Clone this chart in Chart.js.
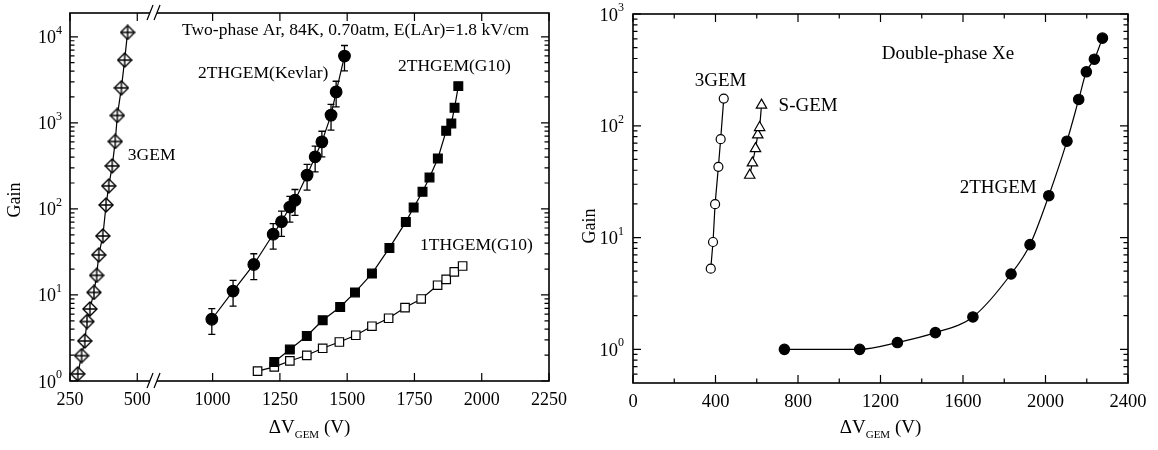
<!DOCTYPE html>
<html>
<head>
<meta charset="utf-8">
<script src="https://cdn.jsdelivr.net/npm/chart.js@4.4.0/dist/chart.umd.min.js"></script>
<style>
  html, body { margin: 0; padding: 0; background: #fff; }
  #wrap { position: relative; width: 1158px; height: 450px; }
  canvas { position: absolute; top: 0; }
</style>
</head>
<body>
<div id="wrap">
  <canvas id="chart-1" width="575" height="450" style="left:0px"></canvas>
  <canvas id="chart-2" width="583" height="450" style="left:575px"></canvas>
</div>
<script>
/************************ data: two-phase Ar (left panel) ************************/

const gem3ArV = [279, 293, 305, 313, 324, 339, 349, 357, 372, 384, 394, 407, 418, 426, 441, 453, 464];
const gem3ArGain = [1.21, 1.97, 2.92, 4.91, 6.87, 10.7, 16.9, 29.2, 48.5, 111, 185, 316, 608, 1219, 2553, 5360, 11250];

const kevlarV = [997, 1076, 1153, 1225, 1256, 1287, 1306, 1351, 1381, 1406, 1440, 1459, 1490];
const kevlarGain = [5.22, 11.1, 22.6, 50.8, 71, 105, 126, 247, 403, 601, 1230, 2290, 5970];
const kevlarErr = [1.73, 3.7, 7.5, 16.8, 23, 35, 42, 82, 133, 198, 405, 755, 1950];

const g10V = [1229, 1287, 1350, 1409, 1474, 1529, 1592, 1657, 1718, 1747, 1780, 1806, 1837, 1868, 1887, 1899, 1913];
const g10Gain = [1.66, 2.32, 3.34, 5.08, 7.25, 10.7, 17.7, 35.2, 70.6, 104, 158, 232, 385, 807, 984, 1494, 2670];

const thgem1V = [1167, 1229, 1287, 1350, 1409, 1471, 1532, 1592, 1654, 1715, 1775, 1836, 1868, 1898, 1929];
const thgem1Gain = [1.30, 1.46, 1.71, 1.99, 2.40, 2.84, 3.40, 4.33, 5.36, 7.14, 8.98, 12.97, 15.2, 18.5, 21.7];

const xTicksAr = [250, 500, 1000, 1250, 1500, 1750, 2000, 2250];
const yDecadesAr = [1, 10, 100, 1000, 10000];

/************************ data: double-phase Xe (right panel) ************************/

const gem3XeV = [377, 388, 398, 414, 425, 440];
const gem3XeGain = [5.27, 9.13, 19.9, 42.9, 75.9, 175];

const sgemV = [566, 579, 594, 605, 614, 623];
const sgemGain = [36.1, 46.5, 62.5, 82.9, 96.4, 153];

const thgemXeV = [734, 1099, 1282, 1466, 1648, 1833, 1925, 2016, 2104, 2161, 2198, 2237, 2276];
const thgemXeGain = [1.0, 1.0, 1.15, 1.41, 1.95, 4.72, 8.64, 23.7, 72.8, 172, 304, 394, 608];

const xTicksXe = [0, 400, 800, 1200, 1600, 2000, 2400];
const xMinorXe = [200, 600, 1000, 1400, 1800, 2200];
const yDecadesXe = [1, 10, 100, 1000];

/************************ broken x axis of the left panel ************************/
// 250..566 is drawn as is, everything above 786 is pulled left by 220
const BREAK_LO = 566;
const BREAK_SHIFT = 220;
function squeeze(v) {
  return v > BREAK_LO ? v - BREAK_SHIFT : v;
}
function same(v) {
  return v;
}

function pts(xs, ys, map) {
  return xs.map((v, i) => ({ x: map(v), y: ys[i] }));
}

// open diamond with a cross inside (3GEM in Ar)
function diamondCross() {
  const c = document.createElement("canvas");
  c.width = 16;
  c.height = 16;
  const g = c.getContext("2d");
  g.strokeStyle = "#000";
  g.lineWidth = 1.4;
  g.fillStyle = "#fff";
  g.beginPath();
  g.moveTo(8, 1);
  g.lineTo(15, 8);
  g.lineTo(8, 15);
  g.lineTo(1, 8);
  g.closePath();
  g.fill();
  g.stroke();
  g.beginPath();
  g.moveTo(8, 1);
  g.lineTo(8, 15);
  g.moveTo(1, 8);
  g.lineTo(15, 8);
  g.stroke();
  return c;
}

const SERIF = "'Liberation Serif', 'DejaVu Serif', serif";

/************************ error bars ************************/
const errorBarPlugin = {
  id: "errorBars",
  beforeDatasetsDraw(chart) {
    const ctx = chart.ctx;
    const ys = chart.scales.y;
    chart.data.datasets.forEach((ds, di) => {
      if (!ds.errors) return;
      const meta = chart.getDatasetMeta(di);
      ctx.save();
      ctx.strokeStyle = "#000";
      ctx.lineWidth = 1.3;
      meta.data.forEach((p, i) => {
        const g = ds.data[i].y;
        const e = ds.errors[i];
        const top = ys.getPixelForValue(g + e);
        const bot = ys.getPixelForValue(Math.max(g - e, 1e-3));
        ctx.beginPath();
        ctx.moveTo(p.x, top);
        ctx.lineTo(p.x, bot);
        ctx.moveTo(p.x - 3.5, top);
        ctx.lineTo(p.x + 3.5, top);
        ctx.moveTo(p.x - 3.5, bot);
        ctx.lineTo(p.x + 3.5, bot);
        ctx.stroke();
      });
      ctx.restore();
    });
  },
};

/************************ frame, ticks and texts ************************/
const framePlugin = {
  id: "frame",
  afterDraw(chart, args, o) {
    const ctx = chart.ctx;
    const a = chart.chartArea;
    const xs = chart.scales.x;
    const ys = chart.scales.y;
    const map = o.xMap;
    ctx.save();

    // box
    ctx.strokeStyle = "#000";
    ctx.lineWidth = 1.6;
    ctx.strokeRect(a.left, a.top, a.right - a.left, a.bottom - a.top);

    // ticks
    ctx.lineWidth = 1.2;
    ctx.beginPath();
    const xTick = (v, len) => {
      const px = xs.getPixelForValue(map(v));
      ctx.moveTo(px, a.bottom);
      ctx.lineTo(px, a.bottom - len);
      ctx.moveTo(px, a.top);
      ctx.lineTo(px, a.top + len);
    };
    const yTick = (v, len) => {
      const py = ys.getPixelForValue(v);
      ctx.moveTo(a.left, py);
      ctx.lineTo(a.left + len, py);
      ctx.moveTo(a.right, py);
      ctx.lineTo(a.right - len, py);
    };
    o.xTicks.forEach((v) => xTick(v, 8));
    (o.xMinor || []).forEach((v) => xTick(v, 4.5));
    o.yDecades.forEach((d) => {
      yTick(d, 8);
      for (let m = 2; m <= 9; m++) {
        const v = d * m;
        if (v < ys.max) yTick(v, 4.5);
      }
      for (let m = 2; m <= 9; m++) {
        const v = (d / 10) * m;
        if (d === o.yDecades[0] && v > ys.min) yTick(v, 4.5);
      }
    });
    ctx.stroke();

    // axis break marks
    if (o.breakAt) {
      const bx = xs.getPixelForValue(o.breakAt);
      [a.top, a.bottom].forEach((y0) => {
        ctx.fillStyle = "#fff";
        ctx.fillRect(bx - 5, y0 - 2, 7, 4);
        ctx.beginPath();
        ctx.moveTo(bx - 8, y0 + 7);
        ctx.lineTo(bx - 2, y0 - 8);
        ctx.moveTo(bx - 1, y0 + 7);
        ctx.lineTo(bx + 5, y0 - 8);
        ctx.stroke();
      });
    }

    // x tick labels
    ctx.fillStyle = "#000";
    ctx.font = o.tickFont + "px " + SERIF;
    ctx.textAlign = "center";
    ctx.textBaseline = "alphabetic";
    o.xTicks.forEach((v) => {
      ctx.fillText(String(v), xs.getPixelForValue(map(v)), a.bottom + 24);
    });

    // y tick labels: 10 with a raised exponent
    o.yDecades.forEach((d) => {
      const py = ys.getPixelForValue(d);
      const ex = String(Math.round(Math.log10(d)));
      ctx.font = "12px " + SERIF;
      const we = ctx.measureText(ex).width;
      ctx.textAlign = "right";
      ctx.fillText(ex, a.left - o.labelGap, py - 3);
      ctx.font = o.tickFont + "px " + SERIF;
      ctx.fillText("10", a.left - o.labelGap - we, py + 6.5);
    });

    // y title
    ctx.save();
    ctx.translate(15, o.gainY);
    ctx.rotate(-Math.PI / 2);
    ctx.textAlign = "center";
    ctx.textBaseline = "middle";
    ctx.font = "18px " + SERIF;
    ctx.fillText("Gain", 0, 0);
    ctx.restore();

    // x title: ΔV_GEM (V)
    const big = "19px " + SERIF;
    const small = "11px " + SERIF;
    ctx.font = big;
    const w1 = ctx.measureText("\u0394V").width;
    const w3 = ctx.measureText(" (V)").width;
    ctx.font = small;
    const w2 = ctx.measureText("GEM").width;
    let tx = (a.left + a.right) / 2 - (w1 + w2 + w3) / 2;
    ctx.textAlign = "left";
    ctx.font = big;
    ctx.fillText("\u0394V", tx, 433);
    tx += w1;
    ctx.font = small;
    ctx.fillText("GEM", tx, 438);
    tx += w2;
    ctx.font = big;
    ctx.fillText(" (V)", tx, 433);

    // annotations
    ctx.textBaseline = "middle";
    ctx.font = o.noteFont + "px " + SERIF;
    o.notes.forEach((n) => {
      ctx.fillText(n.text, xs.getPixelForValue(map(n.x)), ys.getPixelForValue(n.y));
    });

    ctx.restore();
  },
};

/************************* LEFT CHART: two-phase Ar ******************************/

const ctx1 = document.getElementById("chart-1").getContext("2d");
const myChart1 = new Chart(ctx1, {
  type: "scatter",
  data: {
    datasets: [
      {
        label: "3GEM",
        data: pts(gem3ArV, gem3ArGain, squeeze),
        showLine: true,
        borderColor: "#000",
        borderWidth: 1.2,
        pointStyle: diamondCross(),
      },
      {
        label: "2THGEM(Kevlar)",
        data: pts(kevlarV, kevlarGain, squeeze),
        errors: kevlarErr,
        showLine: true,
        borderColor: "#000",
        borderWidth: 1.2,
        pointStyle: "circle",
        pointRadius: 5.8,
        pointBackgroundColor: "#000",
      },
      {
        label: "2THGEM(G10)",
        data: pts(g10V, g10Gain, squeeze),
        showLine: true,
        borderColor: "#000",
        borderWidth: 1.2,
        pointStyle: "rect",
        pointRadius: 6.2,
        pointBackgroundColor: "#000",
      },
      {
        label: "1THGEM(G10)",
        data: pts(thgem1V, thgem1Gain, squeeze),
        showLine: true,
        borderColor: "#000",
        borderWidth: 1.2,
        pointStyle: "rect",
        pointRadius: 6,
        pointBackgroundColor: "#fff",
        pointBorderWidth: 1.2,
      },
    ],
  },
  options: {
    responsive: false,
    animation: false,
    layout: { padding: { left: 70, top: 13, right: 26, bottom: 69 } },
    scales: {
      x: { type: "linear", display: false, min: 250, max: 2250 - BREAK_SHIFT },
      y: { type: "logarithmic", display: false, min: 1, max: 18900 },
    },
    plugins: {
      legend: { display: false },
      tooltip: { enabled: false },
      frame: {
        xMap: squeeze,
        xTicks: xTicksAr,
        yDecades: yDecadesAr,
        breakAt: BREAK_LO,
        tickFont: 18,
        labelGap: 8,
        noteFont: 17.5,
        gainY: 200,
        notes: [
          { text: "Two-phase Ar, 84K, 0.70atm, E(LAr)=1.8 kV/cm", x: 886, y: 11970 },
          { text: "2THGEM(Kevlar)", x: 946, y: 3785 },
          { text: "2THGEM(G10)", x: 1689, y: 4565 },
          { text: "3GEM", x: 465, y: 421 },
          { text: "1THGEM(G10)", x: 1771, y: 37.8 },
        ],
      },
    },
  },
  plugins: [errorBarPlugin, framePlugin],
});

/************************* RIGHT CHART: double-phase Xe ******************************/

const ctx2 = document.getElementById("chart-2").getContext("2d");
const myChart2 = new Chart(ctx2, {
  type: "scatter",
  data: {
    datasets: [
      {
        label: "3GEM",
        data: pts(gem3XeV, gem3XeGain, same),
        showLine: true,
        borderColor: "#000",
        borderWidth: 1.2,
        pointStyle: "circle",
        pointRadius: 4.5,
        pointBackgroundColor: "#fff",
        pointBorderWidth: 1.2,
      },
      {
        label: "S-GEM",
        data: pts(sgemV, sgemGain, same),
        showLine: true,
        borderColor: "#000",
        borderWidth: 1.2,
        pointStyle: "triangle",
        pointRadius: 6,
        pointBackgroundColor: "#fff",
        pointBorderWidth: 1.2,
      },
      {
        label: "2THGEM",
        data: pts(thgemXeV, thgemXeGain, same),
        showLine: true,
        cubicInterpolationMode: "monotone",
        borderColor: "#000",
        borderWidth: 1.2,
        pointStyle: "circle",
        pointRadius: 5.2,
        pointBackgroundColor: "#000",
      },
    ],
  },
  options: {
    responsive: false,
    animation: false,
    layout: { padding: { left: 58, top: 14, right: 30, bottom: 67 } },
    scales: {
      x: { type: "linear", display: false, min: 0, max: 2400 },
      y: { type: "logarithmic", display: false, min: 0.5, max: 1000 },
    },
    plugins: {
      legend: { display: false },
      tooltip: { enabled: false },
      frame: {
        xMap: same,
        xTicks: xTicksXe,
        xMinor: xMinorXe,
        yDecades: yDecadesXe,
        tickFont: 18.5,
        labelGap: 9,
        noteFont: 19,
        gainY: 226,
        notes: [
          { text: "Double-phase Xe", x: 1206, y: 440 },
          { text: "3GEM", x: 299, y: 252 },
          { text: "S-GEM", x: 706, y: 150.7 },
          { text: "2THGEM", x: 1584, y: 27.8 },
        ],
      },
    },
  },
  plugins: [errorBarPlugin, framePlugin],
});
</script>
</body>
</html>
